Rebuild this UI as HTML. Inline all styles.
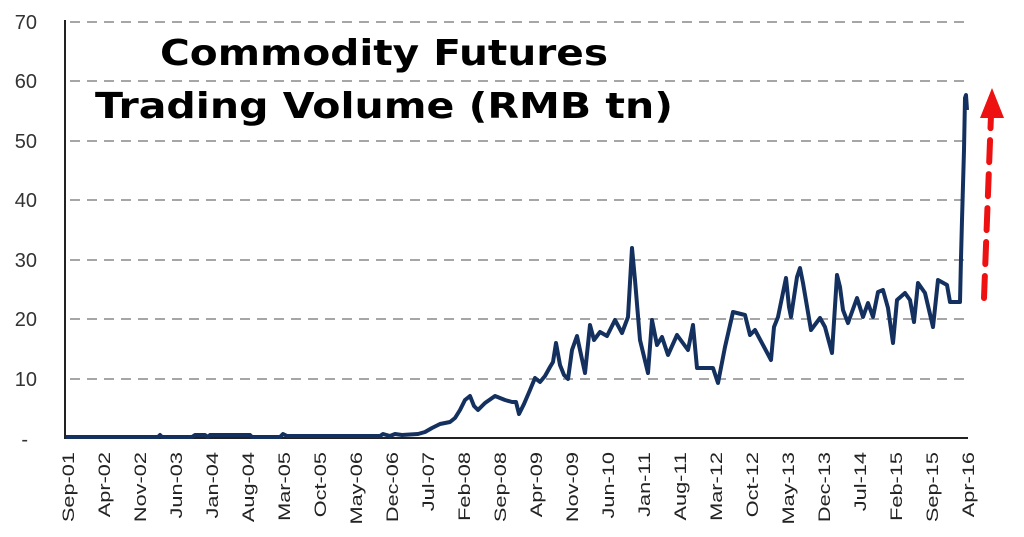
<!DOCTYPE html>
<html><head><meta charset="utf-8"><style>
html,body{margin:0;padding:0;background:#fff;}
svg{display:block;}
</style></head><body>
<svg width="1024" height="537" xmlns="http://www.w3.org/2000/svg">
<g stroke="#a6a6a6" stroke-width="2" stroke-dasharray="10,7">
<line x1="70" y1="22" x2="968" y2="22"/>
<line x1="70" y1="81" x2="968" y2="81"/>
<line x1="70" y1="141" x2="968" y2="141"/>
<line x1="70" y1="200" x2="968" y2="200"/>
<line x1="70" y1="260" x2="968" y2="260"/>
<line x1="70" y1="319" x2="968" y2="319"/>
<line x1="70" y1="379" x2="968" y2="379"/>
</g>
<line x1="65" y1="20" x2="65" y2="439" stroke="#222" stroke-width="2"/>
<line x1="64" y1="438" x2="968" y2="438" stroke="#222" stroke-width="2"/>
<g font-family="Liberation Sans, sans-serif" font-size="20" fill="#333" text-anchor="end">
<text x="37" y="29">70</text><text x="37" y="88">60</text><text x="37" y="148">50</text>
<text x="37" y="207">40</text><text x="37" y="267">30</text><text x="37" y="326">20</text>
<text x="37" y="386">10</text><text x="28" y="446">-</text>
</g>
<g font-family="Liberation Sans, sans-serif" font-size="17" fill="#222" text-anchor="end">
<text transform="translate(74,452) rotate(-90) scale(1.28,1)">Sep-01</text>
<text transform="translate(110,452) rotate(-90) scale(1.28,1)">Apr-02</text>
<text transform="translate(146,452) rotate(-90) scale(1.28,1)">Nov-02</text>
<text transform="translate(182,452) rotate(-90) scale(1.28,1)">Jun-03</text>
<text transform="translate(218,452) rotate(-90) scale(1.28,1)">Jan-04</text>
<text transform="translate(254,452) rotate(-90) scale(1.28,1)">Aug-04</text>
<text transform="translate(290,452) rotate(-90) scale(1.28,1)">Mar-05</text>
<text transform="translate(326,452) rotate(-90) scale(1.28,1)">Oct-05</text>
<text transform="translate(362,452) rotate(-90) scale(1.28,1)">May-06</text>
<text transform="translate(398,452) rotate(-90) scale(1.28,1)">Dec-06</text>
<text transform="translate(434,452) rotate(-90) scale(1.28,1)">Jul-07</text>
<text transform="translate(470,452) rotate(-90) scale(1.28,1)">Feb-08</text>
<text transform="translate(506,452) rotate(-90) scale(1.28,1)">Sep-08</text>
<text transform="translate(542,452) rotate(-90) scale(1.28,1)">Apr-09</text>
<text transform="translate(578,452) rotate(-90) scale(1.28,1)">Nov-09</text>
<text transform="translate(614,452) rotate(-90) scale(1.28,1)">Jun-10</text>
<text transform="translate(650,452) rotate(-90) scale(1.28,1)">Jan-11</text>
<text transform="translate(686,452) rotate(-90) scale(1.28,1)">Aug-11</text>
<text transform="translate(722,452) rotate(-90) scale(1.28,1)">Mar-12</text>
<text transform="translate(758,452) rotate(-90) scale(1.28,1)">Oct-12</text>
<text transform="translate(794,452) rotate(-90) scale(1.28,1)">May-13</text>
<text transform="translate(830,452) rotate(-90) scale(1.28,1)">Dec-13</text>
<text transform="translate(866,452) rotate(-90) scale(1.28,1)">Jul-14</text>
<text transform="translate(902,452) rotate(-90) scale(1.28,1)">Feb-15</text>
<text transform="translate(938,452) rotate(-90) scale(1.28,1)">Sep-15</text>
<text transform="translate(974,452) rotate(-90) scale(1.28,1)">Apr-16</text>
</g>
<polyline fill="none" stroke="#13305e" stroke-width="4" stroke-linejoin="round" points="
66,437 158,437 160,435 162,437 192,437 195,435 205,435 208,437 210,435 250,435 252,437 280,437 283,434 287,436 380,436 383,434 390,436 395,434 402,435 418,434 425,432 432,428 440,424 450,422 455,418 460,410 465,400 470,396 474,406 478,410 485,403 495,396 505,400 512,402 516,402 519,414 524,404 530,390 535,378 540,382 545,376 550,367 553,362 556,343 560,365 564,375 568,379 572,350 577,336 580,350 585,373 590,325 594,340 600,332 607,336 615,320 622,333 628,317 632,248 635,280 640,340 648,373 652,320 657,345 662,337 668,355 677,335 688,350 693,325 697,368 713,368 718,383 725,347 733,312 745,315 750,335 755,330 771,360 774,327 778,317 786,278 789,307 791,317 797,277 800,268 803,283 811,330 820,318 825,327 832,353 837,275 840,287 843,310 848,323 857,298 863,317 868,303 873,317 878,292 883,290 888,308 893,343 897,300 905,293 910,300 914,322 918,283 925,293 933,327 938,280 947,285 950,302 960,302 961,258 962,220 964,150 965,98 966,95 967,110"/>
<g stroke="#ee1111" stroke-width="6" stroke-dasharray="22,12" stroke-linecap="round">
<line x1="984" y1="298" x2="991" y2="115"/>
</g>
<polygon points="980,118 992,88 1004,118" fill="#ee1111"/>
<g font-family="DejaVu Sans, Verdana, sans-serif" font-weight="bold" font-size="36" fill="#000">
<text x="160" y="65" textLength="448" lengthAdjust="spacingAndGlyphs">Commodity Futures</text>
<text x="95" y="118" textLength="578" lengthAdjust="spacingAndGlyphs">Trading Volume (RMB tn)</text>
</g>
</svg>
</body></html>
